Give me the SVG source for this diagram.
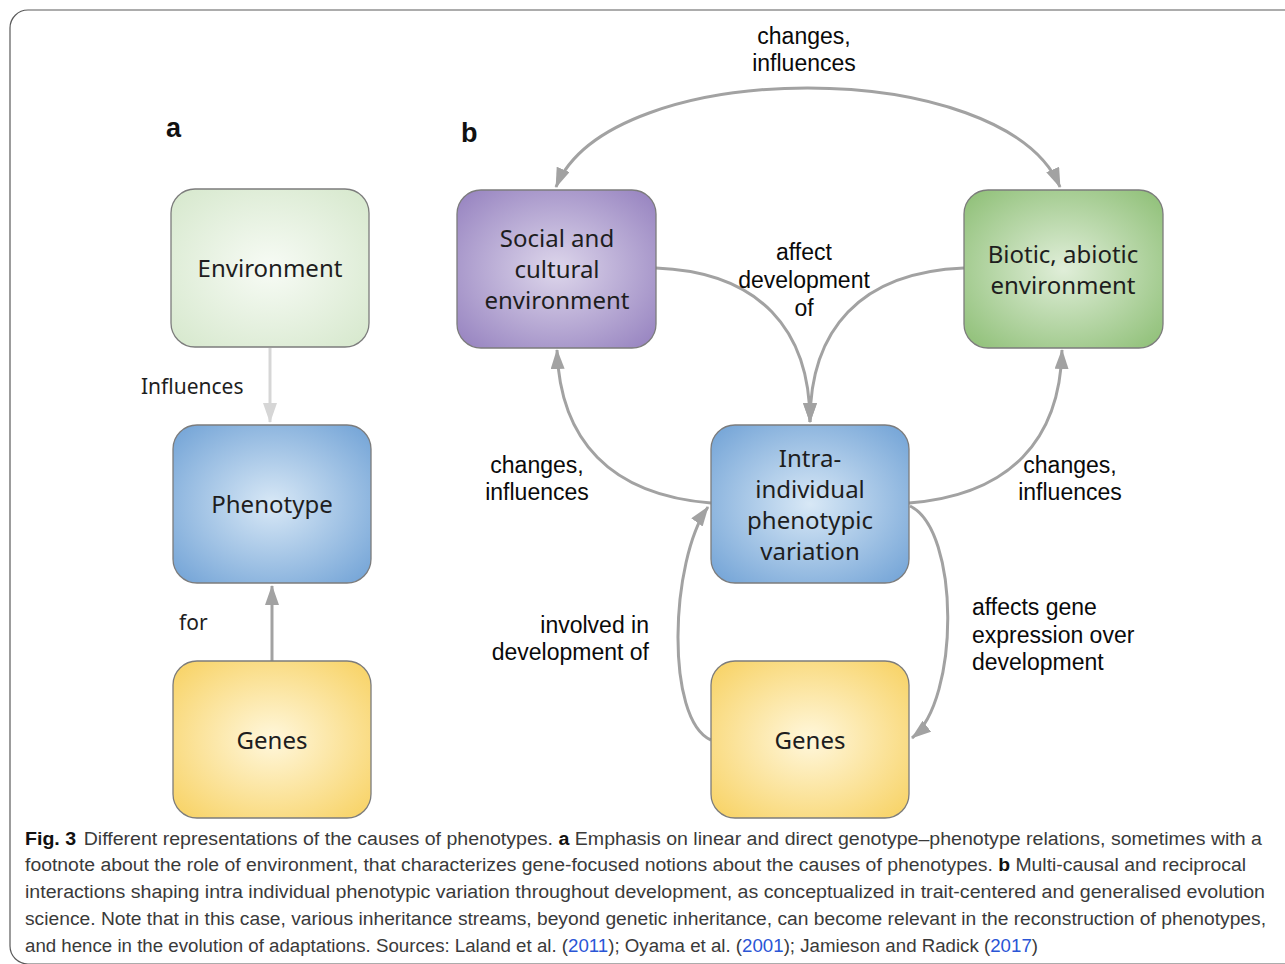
<svg xmlns="http://www.w3.org/2000/svg" width="1285" height="964" viewBox="0 0 1285 964">
<style>
.node{stroke:#7c7c7c;stroke-width:1.3}
.nt{font-family:"Noto Sans","Open Sans",sans-serif;font-size:24px;fill:#1e1e1e;text-anchor:middle}
.lab{font-family:"Liberation Sans",Arial,sans-serif;font-size:23px;fill:#0a0a0a}
.laba{font-family:"Noto Sans","Open Sans",sans-serif;font-size:21px;fill:#1e1e1e}
.pl{font-family:"Liberation Sans",Arial,sans-serif;font-size:27px;font-weight:bold;fill:#111}
.con{fill:none;stroke:#a2a2a2;stroke-width:3}
.cap{font-family:"Liberation Sans",Arial,sans-serif;font-size:18px;fill:#3a3a3a}
.b{font-weight:bold;fill:#111}
.cite{fill:#2a55d6}
</style>
<defs>
<radialGradient id="gEnvA" cx="50%" cy="50%" r="65%"><stop offset="0" stop-color="#f7fbf5"/><stop offset="1" stop-color="#d8e9cf"/></radialGradient>
<radialGradient id="gBlue" cx="50%" cy="50%" r="65%"><stop offset="0" stop-color="#d8e8f6"/><stop offset="1" stop-color="#78a7d8"/></radialGradient>
<radialGradient id="gYellow" cx="50%" cy="50%" r="65%"><stop offset="0" stop-color="#fff7dc"/><stop offset="1" stop-color="#f8d46a"/></radialGradient>
<radialGradient id="gPurple" cx="50%" cy="50%" r="65%"><stop offset="0" stop-color="#ddd6eb"/><stop offset="1" stop-color="#9a87c2"/></radialGradient>
<radialGradient id="gGreen" cx="50%" cy="50%" r="65%"><stop offset="0" stop-color="#e0eed9"/><stop offset="1" stop-color="#93c27c"/></radialGradient>
<marker id="ah" viewBox="0 0 20 14" refX="19" refY="7" markerWidth="20" markerHeight="14" markerUnits="userSpaceOnUse" orient="auto-start-reverse"><path d="M0,0 L20,7 L0,14 Z" fill="#a2a2a2"/></marker>
<marker id="ahl" viewBox="0 0 20 14" refX="19" refY="7" markerWidth="20" markerHeight="14" markerUnits="userSpaceOnUse" orient="auto"><path d="M0,0 L20,7 L0,14 Z" fill="#d6d6d6"/></marker>
</defs>
<rect width="1285" height="964" fill="#ffffff"/>
<rect x="10" y="10" width="1310" height="954" rx="18" fill="none" stroke="#5a5a5a" stroke-width="1.2"/>

<text class="pl" x="166" y="137">a</text>
<text class="pl" x="461" y="142">b</text>

<g id="connectors">
<path class="con" d="M270 348 L270 422" style="stroke:#d6d6d6" marker-end="url(#ahl)"/>
<path class="con" d="M272 661 L272 586" marker-end="url(#ah)"/>
<path class="con" d="M556 187 C610 55 1005 55 1060 187" marker-start="url(#ah)" marker-end="url(#ah)"/>
<path class="con" d="M656 268 C760 272 810 330 810 422" marker-end="url(#ah)"/>
<path class="con" d="M964 268 C860 272 810 330 810 422" marker-end="url(#ah)"/>
<path class="con" d="M711 503 C610 495 560 440 557 350" marker-end="url(#ah)"/>
<path class="con" d="M909 503 C1010 495 1060 440 1062 350" marker-end="url(#ah)"/>
<path class="con" d="M711 740 C665 720 670 560 708 507" marker-end="url(#ah)"/>
<path class="con" d="M910 506 C960 530 960 700 912 738" marker-end="url(#ah)"/>
</g>

<g id="labels">
<text class="laba" x="141" y="394">Influences</text>
<text class="laba" x="179" y="630">for</text>
<text class="lab" x="804" y="44" text-anchor="middle">changes,</text>
<text class="lab" x="804" y="71" text-anchor="middle">influences</text>
<text class="lab" x="804" y="260" text-anchor="middle">affect</text>
<text class="lab" x="804" y="288" text-anchor="middle">development</text>
<text class="lab" x="804" y="316" text-anchor="middle">of</text>
<text class="lab" x="537" y="473" text-anchor="middle">changes,</text>
<text class="lab" x="537" y="500" text-anchor="middle">influences</text>
<text class="lab" x="1070" y="473" text-anchor="middle">changes,</text>
<text class="lab" x="1070" y="500" text-anchor="middle">influences</text>
<text class="lab" x="649" y="633" text-anchor="end">involved in</text>
<text class="lab" x="649" y="660" text-anchor="end">development of</text>
<text class="lab" x="972" y="615">affects gene</text>
<text class="lab" x="972" y="643">expression over</text>
<text class="lab" x="972" y="670">development</text>
</g>

<g id="node-environment-a">
<rect class="node" x="171" y="189" width="198" height="158" rx="24" fill="url(#gEnvA)"/>
<text class="nt" x="270" y="277">Environment</text>
</g>
<g id="node-phenotype-a">
<rect class="node" x="173" y="425" width="198" height="158" rx="24" fill="url(#gBlue)"/>
<text class="nt" x="272" y="513">Phenotype</text>
</g>
<g id="node-genes-a">
<rect class="node" x="173" y="661" width="198" height="157" rx="24" fill="url(#gYellow)"/>
<text class="nt" x="272" y="749">Genes</text>
</g>
<g id="node-social">
<rect class="node" x="457" y="190" width="199" height="158" rx="24" fill="url(#gPurple)"/>
<text class="nt" x="557" y="247">Social and</text>
<text class="nt" x="557" y="278">cultural</text>
<text class="nt" x="557" y="309">environment</text>
</g>
<g id="node-biotic">
<rect class="node" x="964" y="190" width="199" height="158" rx="24" fill="url(#gGreen)"/>
<text class="nt" x="1063" y="263">Biotic, abiotic</text>
<text class="nt" x="1063" y="294">environment</text>
</g>
<g id="node-intra">
<rect class="node" x="711" y="425" width="198" height="158" rx="24" fill="url(#gBlue)"/>
<text class="nt" x="810" y="467">Intra-</text>
<text class="nt" x="810" y="498">individual</text>
<text class="nt" x="810" y="529">phenotypic</text>
<text class="nt" x="810" y="560">variation</text>
</g>
<g id="node-genes-b">
<rect class="node" x="711" y="661" width="198" height="157" rx="24" fill="url(#gYellow)"/>
<text class="nt" x="810" y="749">Genes</text>
</g>

<g id="caption">
<text class="cap" x="25" y="845" textLength="1237" lengthAdjust="spacingAndGlyphs"><tspan class="b">Fig. 3</tspan><tspan dx="7">Different representations of the causes of phenotypes. </tspan><tspan class="b">a</tspan> Emphasis on linear and direct genotype–phenotype relations, sometimes with a</text>
<text class="cap" x="25" y="871" textLength="1221" lengthAdjust="spacingAndGlyphs">footnote about the role of environment, that characterizes gene-focused notions about the causes of phenotypes. <tspan class="b">b</tspan> Multi-causal and reciprocal</text>
<text class="cap" x="25" y="898" textLength="1240" lengthAdjust="spacingAndGlyphs">interactions shaping intra individual phenotypic variation throughout development, as conceptualized in trait-centered and generalised evolution</text>
<text class="cap" x="25" y="925" textLength="1241" lengthAdjust="spacingAndGlyphs">science. Note that in this case, various inheritance streams, beyond genetic inheritance, can become relevant in the reconstruction of phenotypes,</text>
<text class="cap" x="25" y="952" textLength="1013" lengthAdjust="spacingAndGlyphs">and hence in the evolution of adaptations. Sources: Laland et al. (<tspan class="cite">2011</tspan>); Oyama et al. (<tspan class="cite">2001</tspan>); Jamieson and Radick (<tspan class="cite">2017</tspan>)</text>
</g>
</svg>
